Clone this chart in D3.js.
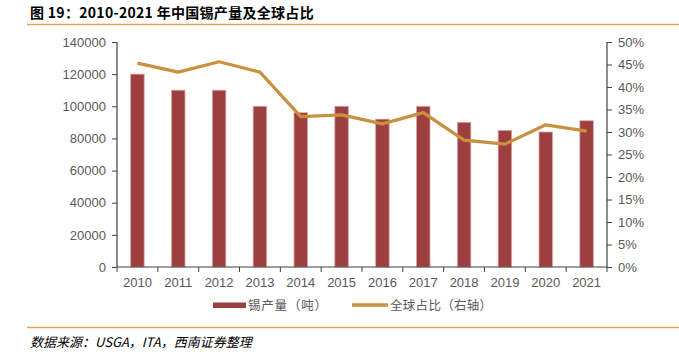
<!DOCTYPE html>
<html><head><meta charset="utf-8">
<script src="https://cdn.jsdelivr.net/npm/d3@7"></script>
<style>
body{margin:0;background:#fff;}
svg{display:block;}
</style></head>
<body>
<svg id="c" width="679" height="355"></svg>
<script>
const years = ["2010","2011","2012","2013","2014","2015","2016","2017","2018","2019","2020","2021"];
const production = [120000,110000,110000,100000,96000,100000,92000,100000,90000,85000,84000,91000];
const share = [45.3,43.3,45.6,43.3,33.4,33.8,31.8,34.3,28.2,27.3,31.6,30.2];
const leftTicks = [0,20000,40000,60000,80000,100000,120000,140000];
const rightTicks = [0,5,10,15,20,25,30,35,40,45,50];
const titleText = "图 19：2010-2021 年中国锡产量及全球占比";
const sourceText = "数据来源：USGA，ITA，西南证券整理";
const legendLabels = ["锡产量（吨）","全球占比（右轴）"];

const svg = d3.select("#c");
const L = 117, R = 607, T = 42, B = 267;
const barColor = "#9E3F3F", lineColor = "#C9913D", axisColor = "#404040", textColor = "#595959";
const font = "Liberation Sans, Arial, sans-serif";
const cjk = "Noto Sans CJK SC, sans-serif";

// title
svg.append("text").attr("x",30).attr("y",18).attr("font-family",cjk).attr("font-weight","bold")
  .attr("font-size",14).attr("letter-spacing",0.3).attr("fill","#000").text(titleText);
svg.append("line").attr("x1",27).attr("x2",679).attr("y1",24.5).attr("y2",24.5)
  .attr("stroke","#E3A257").attr("stroke-width",1.5);

const x = d3.scaleBand().domain(years).range([L,R]).paddingInner(0).paddingOuter(0);
const yL = d3.scaleLinear().domain([0,140000]).range([B,T]);
const yR = d3.scaleLinear().domain([0,50]).range([B,T]);

// bars
const bw = x.bandwidth()*0.33;
svg.append("g").selectAll("rect").data(production).join("rect")
  .attr("x",(d,i)=>x(years[i])+x.bandwidth()/2-bw/2)
  .attr("width",bw)
  .attr("y",d=>yL(d)).attr("height",d=>B-yL(d))
  .attr("fill",barColor).attr("stroke","#D9A3A3").attr("stroke-width",0.8);

// axes
const gl = svg.append("g").attr("transform",`translate(${L},0)`)
  .call(d3.axisLeft(yL).tickValues(leftTicks).tickFormat(d3.format("d")).tickSize(5).tickPadding(6));
const gr = svg.append("g").attr("transform",`translate(${R},0)`)
  .call(d3.axisRight(yR).tickValues(rightTicks).tickFormat(d=>d+"%").tickSize(5).tickPadding(6));
const gx = svg.append("g").attr("transform",`translate(0,${B})`)
  .call(d3.axisBottom(x).tickSize(0).tickPadding(11));
// x tick marks at band boundaries
const bounds = years.map(y=>x(y)).concat([R]);
svg.append("g").selectAll("line").data(bounds).join("line")
  .attr("x1",d=>d).attr("x2",d=>d).attr("y1",B).attr("y2",B+5)
  .attr("stroke",axisColor).attr("stroke-width",1);

[gl,gr,gx].forEach(g=>{
  g.selectAll(".domain").attr("stroke",axisColor).attr("stroke-width",1.2);
  g.selectAll(".tick line").attr("stroke",axisColor);
  g.selectAll("text").attr("font-family",font).attr("font-size",13).attr("fill",textColor);
});
gl.select(".domain").attr("d",`M-0,${T}H0V${B}H-0`);
gr.select(".domain").attr("d",`M0,${T}H0V${B}H0`);
gx.select(".domain").attr("d",`M${L},0H${R}`);

// line
const line = d3.line().x((d,i)=>x(years[i])+x.bandwidth()/2).y(d=>yR(d));
svg.append("path").datum(share).attr("d",line).attr("fill","none")
  .attr("stroke",lineColor).attr("stroke-width",3.2).attr("stroke-linejoin","round");

// legend
const lg = svg.append("g");
lg.append("rect").attr("x",213).attr("y",302.5).attr("width",33).attr("height",5.5).attr("fill",barColor);
lg.append("text").attr("x",248).attr("y",309.5).attr("font-family",cjk).attr("font-size",12.5)
  .attr("fill",textColor).attr("letter-spacing",0.8).text(legendLabels[0]);
lg.append("line").attr("x1",352).attr("x2",388).attr("y1",305).attr("y2",305)
  .attr("stroke",lineColor).attr("stroke-width",3.5);
lg.append("text").attr("x",390).attr("y",309.5).attr("font-family",cjk).attr("font-size",12.5)
  .attr("fill",textColor).attr("letter-spacing",0.3).text(legendLabels[1]);

// bottom line and source
svg.append("line").attr("x1",27).attr("x2",679).attr("y1",327.5).attr("y2",327.5)
  .attr("stroke","#E3A257").attr("stroke-width",1.5);
svg.append("text").attr("x",30).attr("y",347).attr("font-family",cjk).attr("font-style","italic")
  .attr("font-size",13).attr("fill","#000").text(sourceText);
</script>
</body></html>
